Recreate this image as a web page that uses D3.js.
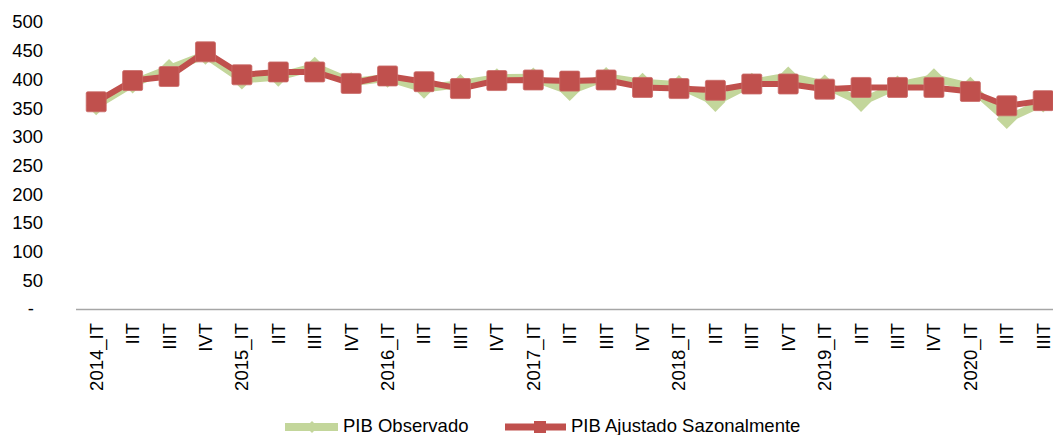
<!DOCTYPE html>
<html>
<head>
<meta charset="utf-8">
<script src="https://cdn.jsdelivr.net/npm/d3@7"></script>
<style>
  html, body { margin: 0; padding: 0; background: #fff; }
  svg { display: block; font-family: "Liberation Sans", Arial, sans-serif; }
</style>
</head>
<body>
<svg id="chart" width="1053" height="435"></svg>
<script>
const categories = ["2014_IT","IIT","IIIT","IVT","2015_IT","IIT","IIIT","IVT","2016_IT","IIT","IIIT","IVT",
  "2017_IT","IIT","IIIT","IVT","2018_IT","IIT","IIIT","IVT","2019_IT","IIT","IIIT","IVT","2020_IT","IIT","IIIT"];
const observado = [355,393,418,443,400,405,422,395,403,384,392,402,403,380,404,394,390,361,394,405,391,361,389,402,387,331,360];
const ajustado  = [361,398,405,448,408,413,413,393,406,396,384,398,399,397,399,386,384,381,392,392,383,386,386,386,379,354,363];
const yTicks = [0,50,100,150,200,250,300,350,400,450,500];
const seriesNames = ["PIB Observado","PIB Ajustado Sazonalmente"];

const green = "#c3d69b", red = "#c0504d";
const svg = d3.select("#chart");

const x = d3.scaleBand().domain(d3.range(categories.length)).range([78, 1061.4]).padding(0);
const y = d3.scaleLinear().domain([0, 500]).range([309, 22]);
const cx = i => x(i) + x.bandwidth() / 2;

// Y axis (labels only)
const yAxis = svg.append("g").attr("transform", "translate(52,0)")
  .call(d3.axisLeft(y).tickValues(yTicks).tickSize(0).tickPadding(9)
    .tickFormat(d => d === 0 ? "-" : d3.format("d")(d)));
yAxis.select(".domain").remove();
yAxis.selectAll("text").attr("font-size", 18.5).attr("fill", "#000")
  .attr("font-family", "'Liberation Sans', Arial, sans-serif");
yAxis.selectAll(".tick").filter(d => d === 0).select("text").attr("x", -18);

// X axis
const xAxis = svg.append("g").attr("transform", "translate(0,309)")
  .call(d3.axisBottom(x).tickSize(0).tickFormat(i => categories[i]));
xAxis.select(".domain").attr("stroke", "#a6a6a6").attr("stroke-width", 1.5)
  .attr("d", "M76,0.5H1053");
xAxis.selectAll("text")
  .attr("font-size", 18.5).attr("fill", "#000")
  .attr("font-family", "'Liberation Sans', Arial, sans-serif")
  .attr("text-anchor", "end")
  .attr("transform", "translate(0,14) rotate(-90)")
  .attr("x", 0).attr("y", 0).attr("dy", "0.35em");

// Lines
const line = d3.line().x((d, i) => cx(i)).y(d => y(d));
svg.append("path").datum(observado).attr("d", line)
  .attr("fill", "none").attr("stroke", green).attr("stroke-width", 8).attr("stroke-linejoin", "round");
svg.append("g").selectAll("path").data(observado).join("path")
  .attr("d", d3.symbol(d3.symbolDiamond2, 260))
  .attr("transform", (d, i) => `translate(${cx(i)},${y(d)})`)
  .attr("fill", green);

svg.append("path").datum(ajustado).attr("d", line)
  .attr("fill", "none").attr("stroke", red).attr("stroke-width", 6).attr("stroke-linejoin", "round");
svg.append("g").selectAll("rect").data(ajustado).join("rect")
  .attr("x", (d, i) => cx(i) - 10).attr("y", d => y(d) - 10)
  .attr("width", 20).attr("height", 20).attr("rx", 1.5)
  .attr("fill", red).attr("stroke", "#c96a67").attr("stroke-width", 0.8);

// Legend
const lg = svg.append("g");
lg.append("line").attr("x1", 285).attr("x2", 338).attr("y1", 427).attr("y2", 427)
  .attr("stroke", green).attr("stroke-width", 8);
lg.append("path").attr("d", d3.symbol(d3.symbolDiamond2, 90))
  .attr("transform", "translate(312,427)").attr("fill", green);
lg.append("text").attr("x", 343).attr("y", 425.5).attr("dy", "0.35em")
  .attr("font-size", 18.5).text(seriesNames[0]);

lg.append("line").attr("x1", 505).attr("x2", 566).attr("y1", 427).attr("y2", 427)
  .attr("stroke", red).attr("stroke-width", 7);
lg.append("rect").attr("x", 534).attr("y", 421).attr("width", 12).attr("height", 12)
  .attr("fill", red);
lg.append("text").attr("x", 571).attr("y", 425.5).attr("dy", "0.35em")
  .attr("font-size", 18.5).text(seriesNames[1]);
</script>
</body>
</html>
